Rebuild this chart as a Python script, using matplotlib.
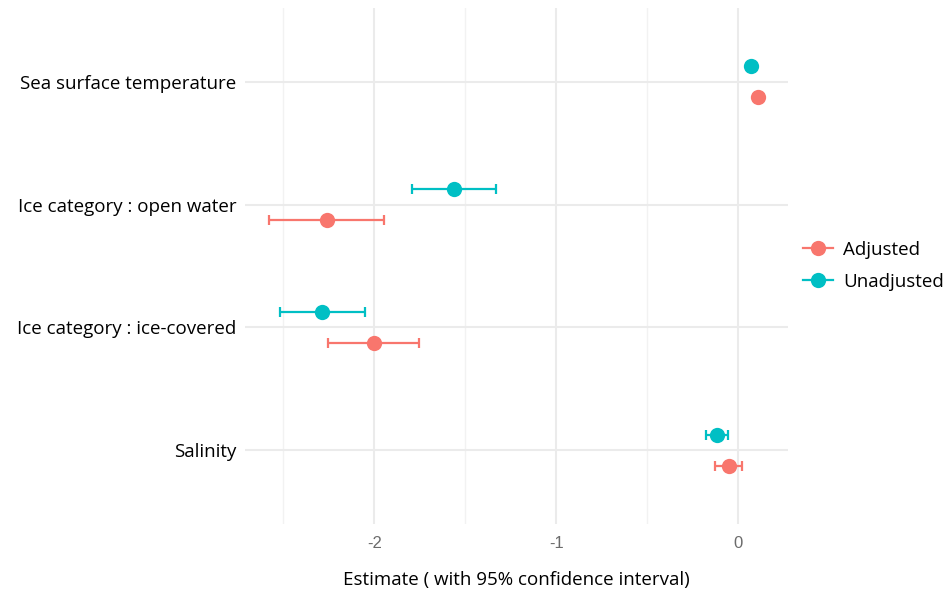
import matplotlib
matplotlib.use("Agg")
import matplotlib.pyplot as plt
from matplotlib.lines import Line2D
import numpy as np

# Terms, top to bottom
terms = ["Sea surface temperature", "Ice category : open water",
         "Ice category : ice-covered", "Salinity"]

# Estimates and 95% CI bounds
adj_est = [0.108, -2.258, -2.000, -0.049]
adj_lo = [0.105, -2.578, -2.254, -0.126]
adj_hi = [0.111, -1.945, -1.752, 0.024]

unadj_est = [0.073, -1.563, -2.287, -0.117]
unadj_lo = [0.070, -1.793, -2.518, -0.177]
unadj_hi = [0.076, -1.333, -2.050, -0.056]

x_ticks = [-2, -1, 0]
x_minor = [-2.5, -1.5, -0.5]

c_adj = "#F8766D"
c_unadj = "#00BFC4"

fig = plt.figure(figsize=(9.47, 5.92), dpi=100)
ax = fig.add_axes([245 / 947, (592 - 524) / 592, (788 - 245) / 947, 516 / 592])

n = len(terms)
ypos = np.arange(n, 0, -1).astype(float)  # top term gets highest position
dodge = 0.125

def draw_series(est, lo, hi, color, offset):
    y = ypos + offset
    est = np.array(est); lo = np.array(lo); hi = np.array(hi)
    ax.errorbar(est, y, xerr=[est - lo, hi - est], fmt="none",
                ecolor=color, elinewidth=1.6, capsize=3.8, capthick=1.6, zorder=3)
    ax.plot(est, y, "o", color=color, markersize=11, markeredgewidth=0, zorder=4)

draw_series(adj_est, adj_lo, adj_hi, c_adj, -dodge)
draw_series(unadj_est, unadj_lo, unadj_hi, c_unadj, dodge)

ax.set_xlim(-2.711, 0.275)
ax.set_ylim(0.4, n + 0.6)

ax.set_xticks(x_ticks)
ax.set_xticklabels([str(t) for t in x_ticks], fontsize=12, color="#6b6b6b",
                   family="Liberation Sans")
ax.set_xticks(x_minor, minor=True)
ax.set_yticks(ypos)
ax.set_yticklabels(terms, fontsize=13.5, color="black", family="Open Sans",
                   va="bottom")
ax.tick_params(axis="both", which="both", length=0)
ax.tick_params(axis="x", pad=9)
ax.tick_params(axis="y", pad=6)
for lbl in ax.get_yticklabels():
    lbl.set_va("center_baseline")

ax.grid(True, which="major", color="#EBEBEB", linewidth=1.5)
ax.grid(True, which="minor", axis="x", color="#F2F2F2", linewidth=1.0)
ax.set_axisbelow(True)
for s in ax.spines.values():
    s.set_visible(False)

ax.set_xlabel("Estimate ( with 95% confidence interval)", fontsize=13.5,
              family="Open Sans", labelpad=14)

handles = [
    Line2D([0], [0], color=c_adj, marker="o", markersize=11, linewidth=1.6,
           markeredgewidth=0),
    Line2D([0], [0], color=c_unadj, marker="o", markersize=11, linewidth=1.6,
           markeredgewidth=0),
]
leg = fig.legend(handles, ["Adjusted", "Unadjusted"], loc="center left",
                 bbox_to_anchor=(786 / 947, 1 - 266 / 592), frameon=False,
                 prop={"family": "Open Sans", "size": 13.5},
                 handlelength=1.6, handletextpad=0.55, labelspacing=0.75)

fig.savefig("out.png", dpi=100)
